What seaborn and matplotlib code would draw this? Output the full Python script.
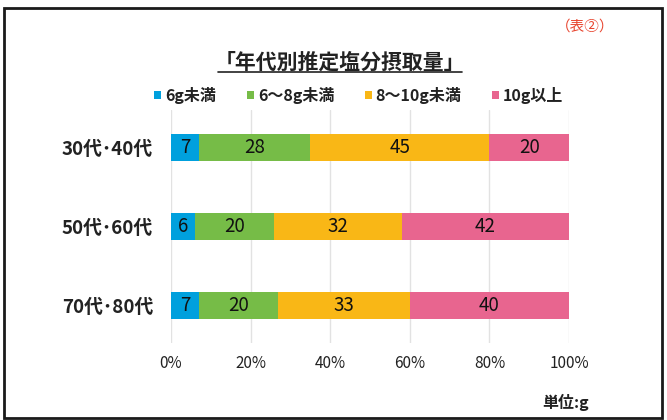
import pandas as pd
import seaborn as sns
import matplotlib.pyplot as plt
from matplotlib.patches import Patch, Rectangle
from matplotlib.lines import Line2D

# values (share in %)
ages = ['30代･40代', '50代･60代', '70代･80代']
bands = ['6g未満', '6～8g未満', '8～10g未満', '10g以上']
under_6 = [7, 6, 7]
from_6_to_8 = [28, 20, 20]
from_8_to_10 = [45, 32, 33]
over_10 = [20, 42, 40]
colors = ['#00a0dd', '#76bc47', '#f9b716', '#e8658f']
ticks = [0, 20, 40, 60, 80, 100]

df = pd.DataFrame({
    'age': ages,
    bands[0]: under_6,
    bands[1]: from_6_to_8,
    bands[2]: from_8_to_10,
    bands[3]: over_10,
})
cum = df[bands].cumsum(axis=1)

sns.set_theme(style='white')
plt.rcParams['font.family'] = ['Noto Sans CJK JP', 'DejaVu Sans']

fig = plt.figure(figsize=(6.67, 4.2), dpi=100)
ax = fig.add_axes([171 / 667, 1 - 343 / 420, 398 / 667, 233 / 420])

# stacked bars: draw cumulative totals back to front
for band, color in reversed(list(zip(bands, colors))):
    sns.barplot(x=cum[band], y=df['age'], color=color, orient='h',
        width=0.34, saturation=1, linewidth=0, ax=ax)

for i in range(len(ages)):
    for band in bands:
        val = df.loc[i, band]
        mid = cum.loc[i, band] - val / 2
        ax.text(mid, i, str(val), ha='center', va='center',
            fontsize=13.5, color='#111111')

ax.set_xlim(0, 100)
ax.set_ylim(2.48, -0.47)
ax.set_xticks(ticks)
ax.set_xticklabels([f'{t}%' for t in ticks], fontsize=11, color='#222222')
ax.set_xlabel('')
ax.set_ylabel('')
ax.tick_params(axis='y', labelsize=13.5, pad=13, length=0)
ax.tick_params(axis='x', pad=9, length=0)
for lbl in ax.get_yticklabels():
    lbl.set_fontweight('bold')
    lbl.set_color('#222222')
ax.xaxis.grid(True, color='#e2e2e2', lw=1)
ax.set_axisbelow(True)
sns.despine(ax=ax, left=True, bottom=True)

handles = [Patch(facecolor=c, edgecolor='none') for c in colors]
leg = fig.legend(handles, bands, loc='center', bbox_to_anchor=(0.538, 1 - 95 / 420),
    ncol=4, frameon=False, handlelength=0.45, handleheight=0.45,
    handletextpad=0.25, columnspacing=1.9, fontsize=11.5)
for t in leg.get_texts():
    t.set_fontweight('bold')
    t.set_color('#222222')

title = fig.text(0.51, 1 - 62 / 420, '「年代別推定塩分摂取量」', ha='center',
    va='center', fontsize=15, fontweight='bold', color='#222222')
fig.text(585 / 667, 1 - 27 / 420, '（表②）', ha='center', va='center',
    fontsize=10.5, color='#e8452f')
fig.text(566 / 667, 1 - 402 / 420, '単位:g', ha='center', va='center',
    fontsize=11.5, fontweight='bold', color='#222222')

# underline under the title
fig.canvas.draw()
bb = title.get_window_extent().transformed(fig.transFigure.inverted())
fig.add_artist(Line2D([bb.x0 + 0.005, bb.x1 - 0.005], [bb.y0 + 0.002, bb.y0 + 0.002],
    transform=fig.transFigure, color='#222222', lw=1.2))

# frame around the whole chart
fig.add_artist(Rectangle((4 / 667, 2 / 420), 658 / 667, 410 / 420,
    transform=fig.transFigure, fill=False, ec='#1a1a1a', lw=2))

fig.savefig('out.png', dpi=100)
